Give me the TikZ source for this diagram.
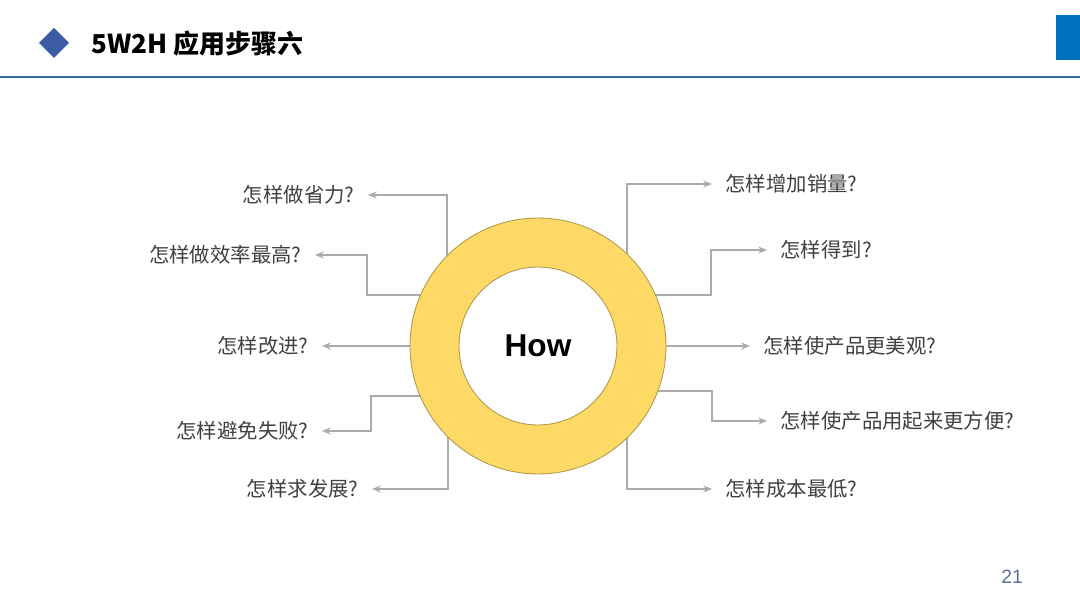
\documentclass[tikz,border=0pt]{standalone}
\usepackage{fontspec}
\setmainfont{Liberation Sans}
\newfontfamily\cjk{Noto Sans CJK SC}
\usepackage{tikz}
\usetikzlibrary{arrows.meta, positioning, calc}
\definecolor{hwyellow}{HTML}{FFD966}
\definecolor{hwedge}{HTML}{B09A50}
\definecolor{hwgray}{HTML}{ABABAB}
\definecolor{hwtext}{HTML}{404040}
\definecolor{hwnavy}{HTML}{3B5BA5}
\definecolor{hwline}{HTML}{2C6BA3}
\definecolor{hwblue}{HTML}{0070C0}
\definecolor{hwpage}{HTML}{5B6F99}

\begin{document}
\begin{tikzpicture}[x=0.02cm, y=-0.02cm,
  conn/.style={draw=hwgray, line width=0.6pt, -{Stealth[length=5pt, width=4pt]}},
  lbl/.style={font=\cjk\fontsize{11.6}{13}\selectfont, text=hwtext, inner xsep=7.5pt, inner ysep=0pt},
  lft/.style={lbl, anchor=east},
  rgt/.style={lbl, anchor=west}]
  \useasboundingbox (0,0) rectangle (1080,608);

  % header
  \fill[hwnavy] (54,28) -- (69,43) -- (54,58) -- (39,43) -- cycle;
  \node[anchor=west, font=\cjk\bfseries\fontsize{14.8}{17}\selectfont, inner sep=0pt] (title) at (91,44) {5W2H 应用步骤六};
  \draw[hwline, line width=1.4pt] (0,77) -- (1080,77);
  \fill[hwblue] (1056,15) rectangle (1080,60);

  % labels
  \node[lft] (t1) at (368,195) {怎样做省力?};
  \node[lft] (t2) at (315,255) {怎样做效率最高?};
  \node[lft] (t3) at (322,346) {怎样改进?};
  \node[lft] (t4) at (322,431) {怎样避免失败?};
  \node[lft] (t5) at (372,489) {怎样求发展?};
  \node[rgt] (r1) at (712,184) {怎样增加销量?};
  \node[rgt] (r2) at (767,250) {怎样得到?};
  \node[rgt] (r3) at (750,346) {怎样使产品更美观?};
  \node[rgt] (r4) at (767,421) {怎样使产品用起来更方便?};
  \node[rgt] (r5) at (712,489) {怎样成本最低?};

  % connectors
  \coordinate (a1) at (447,256);
  \coordinate (a2) at (421,295);
  \coordinate (a3) at (410,346);
  \coordinate (a4) at (420,396);
  \coordinate (a5) at (448,436);
  \coordinate (b1) at (627,254);
  \coordinate (b2) at (655,295);
  \coordinate (b3) at (666,346);
  \coordinate (b4) at (658,391);
  \coordinate (b5) at (627,438);
  \draw[conn] (a1) |- (t1);
  \draw[conn] (a2) -- ++(-54,0) |- (t2);
  \draw[conn] (a3) -- (t3);
  \draw[conn] (a4) -- ++(-49,0) |- (t4);
  \draw[conn] (a5) |- (t5);
  \draw[conn] (b1) |- (r1);
  \draw[conn] (b2) -- ++(56,0) |- (r2);
  \draw[conn] (b3) -- (r3);
  \draw[conn] (b4) -- ++(54,0) |- (r4);
  \draw[conn] (b5) |- (r5);

  % ring
  \coordinate (hub) at (538,346);
  \draw[hwedge, fill=hwyellow, line width=0.5pt, even odd rule]
    (hub) circle[radius=2.56cm] (hub) circle[radius=1.58cm];
  \node[font=\bfseries\fontsize{18}{20}\selectfont] (how) at (hub) {How};

  \node[font=\fontsize{11}{13}\selectfont, text=hwpage] (page) at (1012,577) {21};
\end{tikzpicture}
\end{document}
